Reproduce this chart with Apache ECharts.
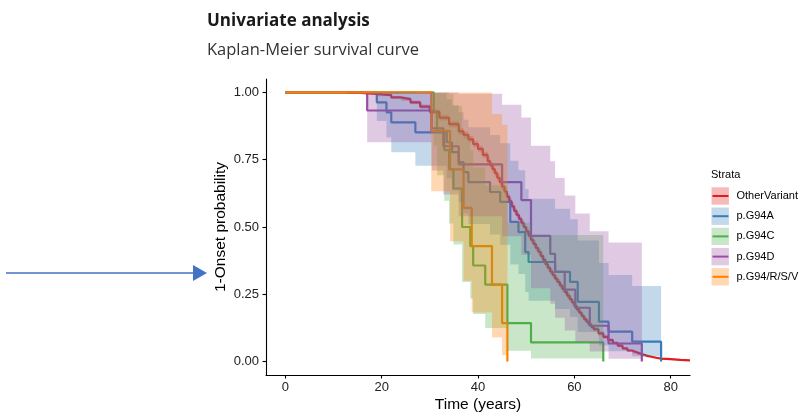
<!DOCTYPE html>
<html>
<head>
<meta charset="utf-8">
<script src="https://cdn.jsdelivr.net/npm/echarts@6/dist/echarts.min.js"></script>
<style>
  html, body { margin: 0; padding: 0; background: #fff; }
  #chart { width: 807px; height: 419px; }
</style>
</head>
<body>
<div id="chart"></div>
<script>
// strata, in legend order
const strata = ['OtherVariant', 'p.G94A', 'p.G94C', 'p.G94D', 'p.G94/R/S/V']
const colors = ['#E41A1C', '#377EB8', '#4DAF4A', '#984EA3', '#FF7F00']
const bandColors = ['rgba(228,26,28,0.3)', 'rgba(55,126,184,0.3)', 'rgba(77,175,74,0.3)', 'rgba(152,78,163,0.3)', 'rgba(255,127,0,0.3)']

const xTicks = [0, 20, 40, 60, 80]
const yTicks = [0, 0.25, 0.5, 0.75, 1]

// OtherVariant
const redTime = [0, 12.8, 16, 19, 22, 24, 26, 28, 30, 32, 34, 36, 37, 38, 39, 40, 41, 42, 42.5, 43, 43.5, 44, 44.5, 45, 45.5, 46, 46.5, 47, 47.5, 48, 48.5, 49, 49.5, 50, 50.5, 51, 51.5, 52, 52.5, 53, 53.5, 54, 54.5, 55, 55.5, 56, 56.5, 57, 57.5, 58, 58.5, 59, 59.5, 60, 60.5, 61, 61.5, 62, 62.5, 63, 63.5, 64, 65, 66, 67, 68, 69, 70, 71, 72, 73, 74, 75, 76, 77, 78, 80, 82, 84]
const redSurv = [1, 0.998, 0.995, 0.99, 0.982, 0.975, 0.963, 0.947, 0.928, 0.906, 0.882, 0.855, 0.842, 0.826, 0.808, 0.79, 0.768, 0.745, 0.73, 0.715, 0.7, 0.683, 0.667, 0.65, 0.632, 0.613, 0.595, 0.577, 0.56, 0.545, 0.53, 0.515, 0.5, 0.484, 0.468, 0.452, 0.437, 0.422, 0.408, 0.393, 0.378, 0.362, 0.348, 0.334, 0.321, 0.308, 0.296, 0.283, 0.27, 0.258, 0.245, 0.232, 0.22, 0.206, 0.194, 0.182, 0.17, 0.158, 0.148, 0.138, 0.129, 0.12, 0.105, 0.092, 0.08, 0.069, 0.059, 0.049, 0.041, 0.034, 0.028, 0.022, 0.018, 0.014, 0.011, 0.009, 0.006, 0.004, 0.003]
const redLo = [1, 0.996, 0.992, 0.986, 0.977, 0.969, 0.956, 0.939, 0.919, 0.896, 0.871, 0.843, 0.83, 0.814, 0.796, 0.778, 0.756, 0.733, 0.718, 0.703, 0.688, 0.671, 0.655, 0.638, 0.62, 0.601, 0.583, 0.565, 0.548, 0.533, 0.518, 0.503, 0.488, 0.472, 0.456, 0.44, 0.425, 0.41, 0.396, 0.381, 0.366, 0.35, 0.336, 0.322, 0.309, 0.296, 0.285, 0.272, 0.259, 0.247, 0.234, 0.222, 0.21, 0.196, 0.184, 0.173, 0.161, 0.149, 0.139, 0.13, 0.121, 0.112, 0.097, 0.085, 0.073, 0.063, 0.053, 0.044, 0.036, 0.03, 0.024, 0.019, 0.015, 0.012, 0.009, 0.007, 0.0045, 0.003, 0.002]
const redHi = [1, 1, 0.998, 0.994, 0.987, 0.981, 0.97, 0.955, 0.937, 0.916, 0.893, 0.867, 0.854, 0.838, 0.82, 0.802, 0.78, 0.757, 0.742, 0.727, 0.712, 0.695, 0.679, 0.662, 0.644, 0.625, 0.607, 0.589, 0.572, 0.557, 0.542, 0.527, 0.512, 0.496, 0.48, 0.464, 0.449, 0.434, 0.42, 0.405, 0.39, 0.374, 0.36, 0.346, 0.333, 0.32, 0.307, 0.294, 0.281, 0.269, 0.256, 0.242, 0.23, 0.216, 0.204, 0.191, 0.179, 0.167, 0.157, 0.146, 0.137, 0.128, 0.113, 0.099, 0.087, 0.075, 0.065, 0.054, 0.046, 0.038, 0.032, 0.025, 0.021, 0.016, 0.013, 0.011, 0.0075, 0.005, 0.004]

// p.G94A
const blueTime = [0, 19, 21, 22, 27, 33.5, 34.6, 36, 37, 38, 42.5, 44.6, 46.7, 48.4, 49.8, 50.5, 56, 59.1, 60.7, 65.1, 67.1, 72, 78]
const blueSurv = [1, 0.963, 0.926, 0.889, 0.852, 0.815, 0.778, 0.741, 0.704, 0.667, 0.63, 0.593, 0.519, 0.481, 0.407, 0.37, 0.333, 0.296, 0.222, 0.148, 0.111, 0.074, 0]
const blueLo = [1, 0.894, 0.833, 0.778, 0.728, 0.681, 0.636, 0.593, 0.551, 0.511, 0.472, 0.434, 0.361, 0.325, 0.258, 0.226, 0.195, 0.166, 0.11, 0.06, 0.038, 0.02, 0.02]
const blueHi = [1, 1, 1, 1, 0.997, 0.975, 0.952, 0.926, 0.899, 0.871, 0.842, 0.811, 0.746, 0.711, 0.641, 0.605, 0.568, 0.529, 0.45, 0.366, 0.322, 0.281, 0.02]

// p.G94C
const greenTime = [0, 30.8, 31.5, 33, 34, 34.9, 36.7, 38.4, 39, 41.5, 46.1, 51, 66]
const greenSurv = [1, 0.929, 0.857, 0.786, 0.714, 0.643, 0.5, 0.429, 0.357, 0.286, 0.143, 0.071, 0]
const greenLo = [1, 0.803, 0.692, 0.598, 0.513, 0.435, 0.296, 0.234, 0.177, 0.125, 0.04, 0.011, 0.011]
const greenHi = [1, 1, 1, 1, 0.995, 0.95, 0.845, 0.785, 0.721, 0.654, 0.516, 0.47, 0.011]

// p.G94D
const purpleTime = [0, 17, 30.4, 32.8, 36, 45, 49, 51, 55, 56, 58, 60.2, 63.2, 67.1, 74]
const purpleSurv = [1, 0.933, 0.867, 0.8, 0.733, 0.667, 0.6, 0.467, 0.4, 0.333, 0.267, 0.2, 0.133, 0.067, 0]
const purpleLo = [1, 0.815, 0.71, 0.621, 0.54, 0.466, 0.397, 0.272, 0.215, 0.163, 0.115, 0.073, 0.037, 0.01, 0.01]
const purpleHi = [1, 1, 1, 1, 0.995, 0.954, 0.907, 0.802, 0.744, 0.682, 0.617, 0.55, 0.484, 0.442, 0.01]

// p.G94/R/S/V
const orangeTime = [0, 30.3, 34.2, 37, 38.7, 42.9, 45, 46.1]
const orangeSurv = [1, 0.857, 0.714, 0.571, 0.429, 0.286, 0.143, 0]
const orangeLo = [1, 0.633, 0.447, 0.3, 0.182, 0.089, 0.023, 0.023]
const orangeHi = [1, 1, 1, 1, 1, 0.92, 0.88, 0.023]

const groups = [
  { time: redTime, surv: redSurv, lo: redLo, hi: redHi },
  { time: blueTime, surv: blueSurv, lo: blueLo, hi: blueHi },
  { time: greenTime, surv: greenSurv, lo: greenLo, hi: greenHi },
  { time: purpleTime, surv: purpleSurv, lo: purpleLo, hi: purpleHi },
  { time: orangeTime, surv: orangeSurv, lo: orangeLo, hi: orangeHi }
]

// stepped ribbon as a single polygon, built from the axis scales
function bandRender(g, k) {
  return function (params, api) {
    if (params.dataIndex !== 0) return null
    const pts = []
    const n = g.time.length
    for (let i = 0; i < n - 1; i++) {
      pts.push(api.coord([g.time[i], g.hi[i]]))
      pts.push(api.coord([g.time[i + 1], g.hi[i]]))
    }
    for (let i = n - 2; i >= 0; i--) {
      pts.push(api.coord([g.time[i + 1], g.lo[i]]))
      pts.push(api.coord([g.time[i], g.lo[i]]))
    }
    return {
      type: 'polygon',
      shape: { points: pts },
      style: { fill: bandColors[k] }
    }
  }
}

const series = []
// step lines first, the ribbons are painted over them
groups.forEach((g, k) => {
  series.push({
    type: 'line',
    name: strata[k],
    step: 'end',
    symbol: 'none',
    z: 2,
    data: g.time.map((t, i) => [t, g.surv[i]]),
    lineStyle: { color: colors[k], width: 2.2 },
    silent: true
  })
})
groups.forEach((g, k) => {
  series.push({
    type: 'custom',
    name: strata[k] + ' CI',
    z: 5,
    data: g.time.map((t, i) => [t, g.lo[i], g.hi[i]]),
    encode: { x: 0, y: [1, 2] },
    renderItem: bandRender(g, k),
    clip: true,
    silent: true
  })
})

// legend drawn by hand: light key + coloured line
const legendItems = [{
  type: 'text',
  style: { x: 711, y: 175, text: 'Strata', font: '11px "Liberation Sans"', fill: '#000', verticalAlign: 'middle' }
}]
strata.forEach((s, k) => {
  const cy = 196 + k * 20.2
  legendItems.push({
    type: 'rect',
    shape: { x: 711.5, y: cy - 8.7, width: 17.4, height: 17.4 },
    style: { fill: bandColors[k] }
  })
  legendItems.push({
    type: 'line',
    shape: { x1: 712.5, y1: cy, x2: 728.5, y2: cy },
    style: { stroke: colors[k], lineWidth: 2 }
  })
  legendItems.push({
    type: 'text',
    style: { x: 736.5, y: cy, text: s, font: '11px "Liberation Sans"', fill: '#000', verticalAlign: 'middle' }
  })
})

const axisFont = '"Liberation Sans", Arial, sans-serif'

const option = {
  animation: false,
  backgroundColor: '#fff',
  title: {
    text: 'Univariate analysis',
    subtext: 'Kaplan-Meier survival curve',
    left: 207,
    top: 13,
    itemGap: 12,
    padding: 0,
    textStyle: { fontFamily: '"Open Sans"', fontWeight: 'bold', fontSize: 17, color: '#1a1a1a' },
    subtextStyle: { fontFamily: '"Open Sans"', fontSize: 16.5, color: '#333' }
  },
  grid: { left: 266, right: 117, top: 79, bottom: 44 },
  xAxis: {
    type: 'value',
    min: -4,
    max: 84,
    name: 'Time (years)',
    nameLocation: 'middle',
    nameGap: 22,
    nameMoveOverlap: false,
    nameTextStyle: { fontFamily: axisFont, fontSize: 15.5, color: '#000' },
    axisLine: { onZero: false, lineStyle: { color: '#000', width: 1.1 } },
    axisTick: { show: true, length: 3.5, customValues: xTicks, lineStyle: { color: '#000', width: 1.1 } },
    axisLabel: { customValues: xTicks, margin: 6, fontFamily: axisFont, fontSize: 13, color: '#222' },
    splitLine: { show: false }
  },
  yAxis: {
    type: 'value',
    min: -0.05,
    max: 1.05,
    name: '1-Onset probability',
    nameLocation: 'middle',
    nameGap: 37,
    nameMoveOverlap: false,
    nameTextStyle: { fontFamily: axisFont, fontSize: 15.5, color: '#000' },
    axisLine: { show: true, onZero: false, lineStyle: { color: '#000', width: 1.1 } },
    axisTick: { show: true, length: 3.5, customValues: yTicks, lineStyle: { color: '#000', width: 1.1 } },
    axisLabel: {
      customValues: yTicks,
      margin: 7,
      fontFamily: axisFont,
      fontSize: 13,
      color: '#222',
      formatter: v => v.toFixed(2)
    },
    splitLine: { show: false }
  },
  series: series,
  graphic: [
    // pointer arrow on the left
    {
      type: 'line',
      shape: { x1: 6, y1: 273, x2: 195, y2: 273 },
      style: { stroke: '#4472C4', lineWidth: 1.5 }
    },
    {
      type: 'polygon',
      shape: { points: [[193, 265], [207, 273], [193, 281]] },
      style: { fill: '#4472C4' }
    }
  ].concat(legendItems)
}

const chart = echarts.init(document.getElementById('chart'))
chart.setOption(option)
</script>
</body>
</html>
